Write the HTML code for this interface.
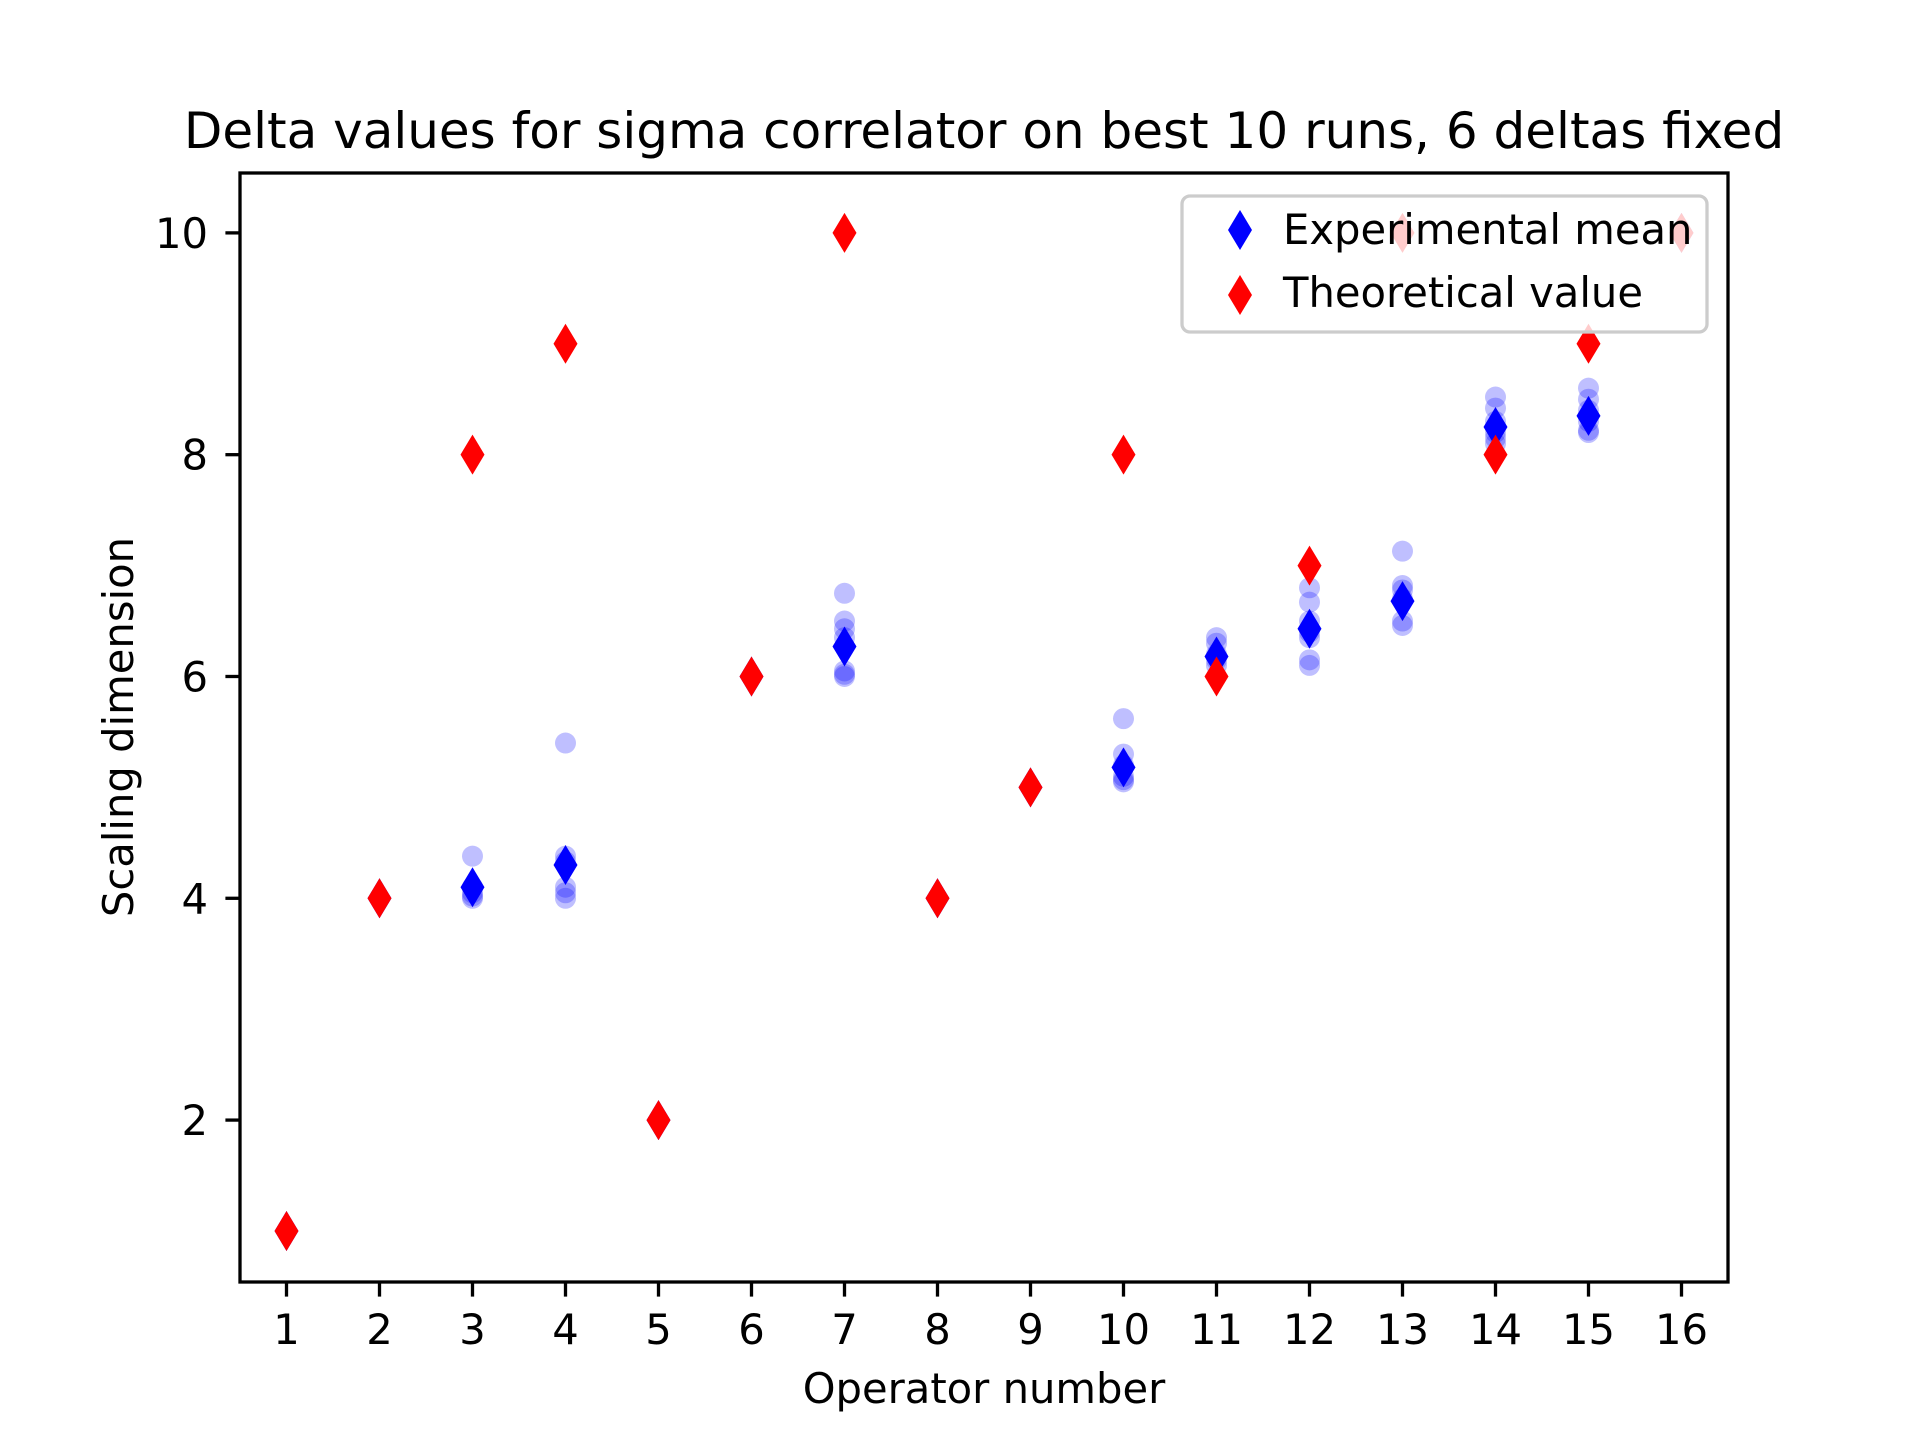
<!DOCTYPE html>
<html><head><meta charset="utf-8"><style>
html,body{margin:0;padding:0;background:#fff}
svg{display:block}
text{font-family:"DejaVu Sans","Liberation Sans",sans-serif;fill:#000}
</style></head><body>
<svg id="chart" width="1920" height="1440" viewBox="0 0 1920 1440" xmlns="http://www.w3.org/2000/svg">
<rect width="1920" height="1440" fill="#fff"/>
<text x="984" y="148" font-size="50" text-anchor="middle">Delta values for sigma correlator on best 10 runs, 6 deltas fixed</text>
<g id="plot"></g>
<g id="axes"></g>
<text x="984" y="1403" font-size="41.7" text-anchor="middle">Operator number</text>
<text x="133" y="727" font-size="41.7" text-anchor="middle" transform="rotate(-90 133 727)">Scaling dimension</text>
<g id="legend"></g>
</svg>
<script>
const operators = [1,2,3,4,5,6,7,8,9,10,11,12,13,14,15,16];
const theoretical = [1,4,8,9,2,6,10,4,5,8,6,7,10,8,9,10];
const expMean = [1,4,4.1,4.3,2,6,6.27,4,5,5.18,6.18,6.43,6.68,8.25,8.35,10];
const runOps = [3,3,3,3,3,4,4,4,4,4,4,7,7,7,7,7,7,7,10,10,10,10,10,10,11,11,11,11,11,12,12,12,12,12,12,12,13,13,13,13,13,13,14,14,14,14,14,14,15,15,15,15,15,15];
const runVals = [4.38,4.1,4.05,4.0,4.02,5.4,4.38,4.33,4.1,4.05,4.0,6.75,6.5,6.43,6.35,6.05,6.02,6.0,5.62,5.3,5.2,5.1,5.07,5.05,6.35,6.3,6.2,6.15,6.1,6.8,6.67,6.5,6.4,6.35,6.15,6.1,7.13,6.82,6.78,6.7,6.5,6.46,8.52,8.42,8.3,8.2,8.15,8.1,8.6,8.5,8.4,8.3,8.22,8.2];
const xTicks = [1,2,3,4,5,6,7,8,9,10,11,12,13,14,15,16];
const yTicks = [2,4,6,8,10];

const NS="http://www.w3.org/2000/svg";
const L=240,R=1728,T=173,B=1282;
const xMin=0.5,xMax=16.5,yMin=0.54,yMax=10.54;
const xs=v=>L+(v-xMin)/(xMax-xMin)*(R-L);
const ys=v=>B-(v-yMin)/(yMax-yMin)*(B-T);
function mk(tag,attrs,parent){const e=document.createElementNS(NS,tag);for(const k in attrs)e.setAttribute(k,attrs[k]);parent.appendChild(e);return e;}
function diamond(cx,cy){const w=12,h=20;return `${cx},${cy-h} ${cx+w},${cy} ${cx},${cy+h} ${cx-w},${cy}`;}
const plot=document.getElementById('plot');
runOps.forEach((o,i)=>{
  const c=mk('circle',{cx:xs(o),cy:ys(runVals[i]),r:10.5,fill:'#0000ff','fill-opacity':0.25},plot);
  
  
});
operators.forEach((o,i)=>{
  const p=mk('polygon',{points:diamond(xs(o),ys(expMean[i])),fill:'#0000ff'},plot);
  
  
});
operators.forEach((o,i)=>{
  const p=mk('polygon',{points:diamond(xs(o),ys(theoretical[i])),fill:'#ff0000'},plot);
  
  
});
const ax=document.getElementById('axes');
const frame=mk('rect',{x:L,y:T,width:R-L,height:B-T,fill:'none',stroke:'#000','stroke-width':3.3},ax);


xTicks.forEach(t=>{
  const x=xs(t);
  mk('line',{x1:x,x2:x,y1:B,y2:B+14.6,stroke:'#000','stroke-width':3.3},ax);
  const tx=mk('text',{x:x,y:1344,'font-size':41.7,'text-anchor':'middle'},ax);
  tx.textContent=t;
  
  
});
yTicks.forEach(t=>{
  const y=ys(t);
  mk('line',{x1:L-14.6,x2:L,y1:y,y2:y,stroke:'#000','stroke-width':3.3},ax);
  const tx=mk('text',{x:208,y:y+15,'font-size':41.7,'text-anchor':'end'},ax);
  tx.textContent=t;
  
  
});
const lg=document.getElementById('legend');
mk('rect',{x:1182,y:196,width:525,height:136,rx:8,fill:'#fff','fill-opacity':0.8,stroke:'#cccccc','stroke-width':3.3},lg);
const e1=mk('polygon',{points:diamond(1240,230),fill:'#0000ff'},lg);


const t1=mk('text',{x:1283,y:244,'font-size':41.7},lg);t1.textContent='Experimental mean';


const e2=mk('polygon',{points:diamond(1240,295),fill:'#ff0000'},lg);


const t2=mk('text',{x:1283,y:307,'font-size':41.7},lg);t2.textContent='Theoretical value';


</script>
</body></html>
